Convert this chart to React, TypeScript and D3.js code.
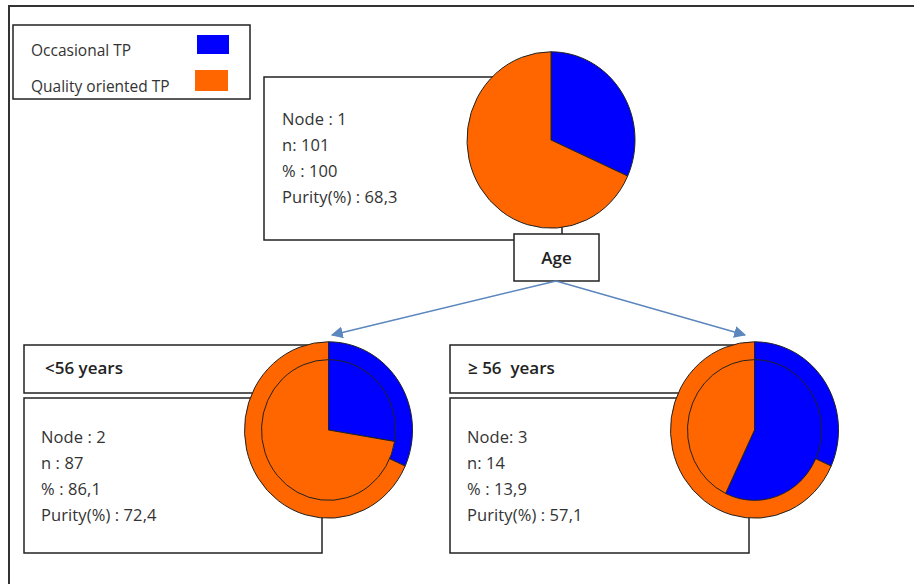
import React from "react";
import * as d3 from "d3";

const categories = ["Occasional TP", "Quality oriented TP"];
const colors = ["#0000FF", "#FF6600"];
const nodeIds = [1, 2, 3];
const nodeLines = [
  ["Node : 1", "n: 101", "% : 100", "Purity(%) : 68,3"],
  ["Node : 2", "n : 87", "% : 86,1", "Purity(%) : 72,4"],
  ["Node: 3", "n: 14", "% : 13,9", "Purity(%) : 57,1"],
];
const occasionalShare = [31.7, 27.6, 57.1];
const qualityShare = [68.3, 72.4, 42.9];
const splitVariable = "Age";
const branchLabels = ["<56 years", "\u2265 56  years"];

const FONT = "'Open Sans', 'Noto Sans', sans-serif";

const pieGen = d3.pie<number>().sort(null).value((d) => d);

function shares(i: number) {
  return [occasionalShare[i], qualityShare[i]];
}

function Pie({ idx, parent, cx, cy }: { idx: number; parent: number | null; cx: number; cy: number }) {
  const R = 84;
  const rIn = 67;
  const sy = 1.05;
  const own = pieGen(shares(idx));
  const inner = parent === null ? R : rIn;
  const arcInner = d3.arc<d3.PieArcDatum<number>>().innerRadius(0).outerRadius(inner);
  const arcOuter = d3.arc<d3.PieArcDatum<number>>().innerRadius(0).outerRadius(R);
  const par = parent === null ? null : pieGen(shares(parent));
  return (
    <g transform={`translate(${cx},${cy}) scale(1,${sy})`}>
      {par &&
        par.map((a, i) => (
          <path key={"o" + i} d={arcOuter(a) || ""} fill={colors[i]} stroke="#222" strokeWidth={1} vectorEffect="non-scaling-stroke" />
        ))}
      {own.map((a, i) => (
        <path key={"i" + i} d={arcInner(a) || ""} fill={colors[i]} stroke="#222" strokeWidth={1} vectorEffect="non-scaling-stroke" />
      ))}
    </g>
  );
}

function NodeText({ idx, x, y }: { idx: number; x: number; y: number }) {
  return (
    <g>
      {nodeLines[idx].map((t, i) => (
        <text key={i} x={x} y={y + i * 26} fontFamily={FONT} fontSize={16.5} fill="#333" letterSpacing={0.1}>
          {t}
        </text>
      ))}
    </g>
  );
}

export default function App() {
  const boxStroke = "#222";
  const arrowColor = "#5B86BE";
  const start = { x: 556, y: 281 };
  const leftEnd = { x: 332, y: 335 };
  const rightEnd = { x: 745, y: 335 };
  return (
    <svg width={914} height={584} style={{ position: "absolute", left: 0, top: 0, background: "#fff" }}>
      <defs>
        <marker id="arr" viewBox="0 0 10 10" refX="9" refY="5" markerWidth="8" markerHeight="8" orient="auto">
          <path d="M0,0 L10,5 L0,10 z" fill={arrowColor} />
        </marker>
      </defs>
      {/* outer frame */}
      <line x1={8} y1={6} x2={914} y2={6} stroke="#333" strokeWidth={2} />
      <line x1={9} y1={6} x2={9} y2={584} stroke="#333" strokeWidth={2} />

      {/* legend */}
      <rect x={13} y={25} width={237} height={74} fill="#fff" stroke={boxStroke} strokeWidth={1.5} />
      <text x={31} y={56} fontFamily={FONT} fontSize={15.5} fill="#333">{categories[0]}</text>
      <rect x={197} y={35} width={32} height={19} fill={colors[0]} />
      <text x={31} y={92} fontFamily={FONT} fontSize={15.5} fill="#333">{categories[1]}</text>
      <rect x={195} y={70} width={33} height={21} fill={colors[1]} />

      {/* node 1 */}
      <rect x={264} y={77} width={298} height={163} fill="#fff" stroke={boxStroke} strokeWidth={1.5} />
      <NodeText idx={0} x={282} y={125} />
      <Pie idx={0} parent={null} cx={551} cy={140} />
      <rect x={514} y={234} width={85} height={47} fill="#fff" stroke={boxStroke} strokeWidth={1.5} />
      <text x={556.5} y={264} textAnchor="middle" fontFamily={FONT} fontWeight="600" fontSize={17} fill="#222">
        {splitVariable}
      </text>

      {/* arrows */}
      <line x1={start.x} y1={start.y} x2={leftEnd.x} y2={leftEnd.y} stroke={arrowColor} strokeWidth={1.5} markerEnd="url(#arr)" />
      <line x1={start.x} y1={start.y} x2={rightEnd.x} y2={rightEnd.y} stroke={arrowColor} strokeWidth={1.5} markerEnd="url(#arr)" />

      {/* node 2 */}
      <rect x={24} y={345} width={306} height={48} fill="#fff" stroke={boxStroke} strokeWidth={1.5} />
      <text x={45} y={374} fontFamily={FONT} fontWeight="600" fontSize={17} fill="#222">{branchLabels[0]}</text>
      <rect x={24} y={398} width={298} height={155} fill="#fff" stroke={boxStroke} strokeWidth={1.5} />
      <NodeText idx={1} x={41} y={443} />
      <Pie idx={1} parent={0} cx={328.5} cy={430} />

      {/* node 3 */}
      <rect x={450} y={345} width={305} height={48} fill="#fff" stroke={boxStroke} strokeWidth={1.5} />
      <text x={468} y={374} fontFamily={FONT} fontWeight="600" fontSize={17} fill="#222" style={{ whiteSpace: "pre" }}>{branchLabels[1]}</text>
      <rect x={450} y={398} width={299} height={155} fill="#fff" stroke={boxStroke} strokeWidth={1.5} />
      <NodeText idx={2} x={467} y={443} />
      <Pie idx={2} parent={0} cx={754.5} cy={430} />
      <desc>{nodeIds.join(",")}</desc>
    </svg>
  );
}
